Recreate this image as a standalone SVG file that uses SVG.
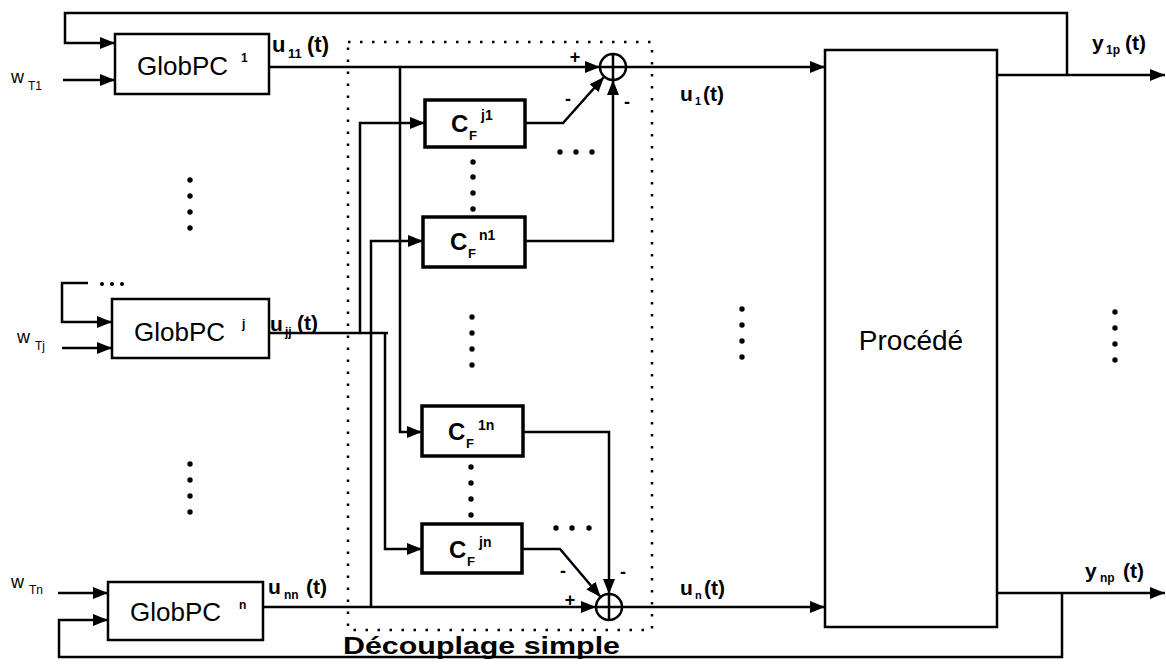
<svg xmlns="http://www.w3.org/2000/svg" width="1166" height="666" viewBox="0 0 1166 666">
<style>
.ln{fill:none;stroke:#000;stroke-width:2.5;stroke-linejoin:miter}
.box{fill:#fff;stroke:#000;stroke-width:2.5}
.cf{fill:#fff;stroke:#000;stroke-width:3.5}
.t{font-family:"Liberation Sans",Arial,sans-serif;fill:#000}
.b{font-weight:bold}
.frame{fill:none;stroke:#000;stroke-width:2.5;stroke-dasharray:2.5 9.5}
</style>
<defs>
<marker id="ar" markerWidth="15" markerHeight="12" refX="15" refY="6" orient="auto" markerUnits="userSpaceOnUse"><path d="M0,0 L15,6 L0,12 z" fill="#000"/></marker>
</defs>
<rect width="1166" height="666" fill="#fff"/>

<g id="decouplage-frame">
<rect class="frame" x="348" y="42" width="304" height="588"/>
<text class="t b" x="343" y="654" font-size="24" textLength="277" lengthAdjust="spacingAndGlyphs">Découplage simple</text>
</g>

<g id="connectors">
<path class="ln" d="M1067,75 V13 H65 V43 H115" marker-end="url(#ar)"/>
<path class="ln" d="M63,80 H115" marker-end="url(#ar)"/>
<path class="ln" d="M269,67 H600" marker-end="url(#ar)"/>
<path class="ln" d="M626,67 H825" marker-end="url(#ar)"/>
<path class="ln" d="M997,75 H1165" marker-end="url(#ar)"/>
<path class="ln" d="M400,67 V432 H422" marker-end="url(#ar)"/>
<path class="ln" d="M269,333 H388"/>
<path class="ln" d="M360,333 V123 H425" marker-end="url(#ar)"/>
<path class="ln" d="M385,333 V549 H422" marker-end="url(#ar)"/>
<path class="ln" d="M263,607 H596" marker-end="url(#ar)"/>
<path class="ln" d="M371,607 V241 H423" marker-end="url(#ar)"/>
<path class="ln" d="M525,123 H563 L604,77" marker-end="url(#ar)"/>
<path class="ln" d="M525,241 H613 V80" marker-end="url(#ar)"/>
<path class="ln" d="M523,432 H609 V594" marker-end="url(#ar)"/>
<path class="ln" d="M522,549 H560 L600.6,597" marker-end="url(#ar)"/>
<path class="ln" d="M622,607 H825" marker-end="url(#ar)"/>
<path class="ln" d="M997,593 H1165" marker-end="url(#ar)"/>
<path class="ln" d="M1062,593 V657 H59 V620 H108" marker-end="url(#ar)"/>
<path class="ln" d="M88,283 H62 V322 H112" marker-end="url(#ar)"/>
<path class="ln" d="M62,348 H112" marker-end="url(#ar)"/>
<path class="ln" d="M58,593 H108" marker-end="url(#ar)"/>
</g>

<g id="globpc1">
<rect class="box" x="115" y="34" width="154" height="60"/>
<text class="t" x="137" y="75" font-size="26">GlobPC</text>
<text class="t b" x="241" y="62" font-size="12">1</text>
</g>
<g id="globpcj">
<rect class="box" x="112" y="299" width="157" height="59"/>
<text class="t" x="134" y="341" font-size="26">GlobPC</text>
<text class="t b" x="242" y="328" font-size="12">j</text>
</g>
<g id="globpcn">
<rect class="box" x="108" y="582" width="155" height="58"/>
<text class="t" x="130" y="621" font-size="26">GlobPC</text>
<text class="t b" x="239" y="609" font-size="12">n</text>
</g>

<g id="procede">
<rect class="box" x="825" y="50" width="172" height="577"/>
<text class="t" x="911" y="350" font-size="28" text-anchor="middle">Procédé</text>
</g>

<g id="cf-j1">
<rect class="cf" x="425" y="100" width="100" height="47"/>
<text class="t b" x="451" y="132" font-size="24">C</text>
<text class="t b" x="469" y="140" font-size="13">F</text>
<text class="t b" x="481" y="120" font-size="14">j1</text>
</g>
<g id="cf-n1">
<rect class="cf" x="423" y="217" width="102" height="50"/>
<text class="t b" x="450" y="250" font-size="24">C</text>
<text class="t b" x="468" y="258" font-size="13">F</text>
<text class="t b" x="479" y="240" font-size="14">n1</text>
</g>
<g id="cf-1n">
<rect class="cf" x="422" y="406" width="101" height="50"/>
<text class="t b" x="448" y="440" font-size="24">C</text>
<text class="t b" x="466" y="448" font-size="13">F</text>
<text class="t b" x="478" y="430" font-size="14">1n</text>
</g>
<g id="cf-jn">
<rect class="cf" x="422" y="524" width="100" height="49"/>
<text class="t b" x="449" y="558" font-size="24">C</text>
<text class="t b" x="467" y="566" font-size="13">F</text>
<text class="t b" x="479" y="547" font-size="14">jn</text>
</g>

<g id="sum1">
<circle cx="613" cy="67" r="13" fill="#fff" stroke="#000" stroke-width="2.5"/>
<path class="ln" d="M600,67 H626 M613,54 V80"/>
</g>
<g id="sumn">
<circle cx="609" cy="607" r="13" fill="#fff" stroke="#000" stroke-width="2.5"/>
<path class="ln" d="M596,607 H622 M609,594 V620"/>
</g>

<g id="labels" class="t b">
<text x="272" y="52" font-size="22">u</text><text x="288" y="58" font-size="13">11</text><text x="307" y="52" font-size="22">(t)</text>
<text x="270" y="331" font-size="21">u</text><text x="285" y="336" font-size="12">jj</text><text x="297" y="330" font-size="21">(t)</text>
<text x="268" y="594" font-size="21">u</text><text x="284" y="599" font-size="12">nn</text><text x="306" y="594" font-size="21">(t)</text>
<text x="680" y="101" font-size="21">u</text><text x="695" y="105" font-size="11">1</text><text x="703" y="101" font-size="21">(t)</text>
<text x="680" y="595" font-size="21">u</text><text x="695" y="599" font-size="11">n</text><text x="704" y="595" font-size="21">(t)</text>
<text x="1092" y="50" font-size="21">y</text><text x="1106" y="54" font-size="12">1p</text><text x="1125" y="50" font-size="21">(t)</text>
<text x="1085" y="578" font-size="21">y</text><text x="1100" y="582" font-size="12">np</text><text x="1123" y="578" font-size="21">(t)</text>
<text x="575" y="63" font-size="18" text-anchor="middle">+</text>
<text x="568" y="105" font-size="18" text-anchor="middle">-</text>
<text x="627" y="108" font-size="18" text-anchor="middle">-</text>
<text x="563" y="577" font-size="18" text-anchor="middle">-</text>
<text x="623" y="578" font-size="18" text-anchor="middle">-</text>
<text x="570" y="606" font-size="18" text-anchor="middle">+</text>
</g>
<g id="inputs" class="t">
<text x="11" y="83" font-size="18">w</text><text x="28" y="90" font-size="12">T1</text>
<text x="17" y="343" font-size="18">w</text><text x="35" y="350" font-size="12">Tj</text>
<text x="11" y="588" font-size="18">w</text><text x="29" y="594" font-size="12">Tn</text>
</g>

<g id="ellipses" fill="#000">
<circle cx="190" cy="180" r="2.7"/><circle cx="190" cy="196" r="2.7"/><circle cx="190" cy="212" r="2.7"/><circle cx="190" cy="228" r="2.7"/>
<circle cx="190" cy="464" r="2.7"/><circle cx="190" cy="480" r="2.7"/><circle cx="190" cy="496" r="2.7"/><circle cx="190" cy="512" r="2.7"/>
<circle cx="102" cy="284" r="2"/><circle cx="112" cy="284" r="2"/><circle cx="122" cy="284" r="2"/>
<circle cx="473" cy="162" r="2.7"/><circle cx="473" cy="177" r="2.7"/><circle cx="473" cy="193" r="2.7"/><circle cx="473" cy="209" r="2.7"/>
<circle cx="472" cy="317" r="2.7"/><circle cx="472" cy="333" r="2.7"/><circle cx="472" cy="349" r="2.7"/><circle cx="472" cy="365" r="2.7"/>
<circle cx="471" cy="467" r="2.7"/><circle cx="471" cy="483" r="2.7"/><circle cx="471" cy="499" r="2.7"/><circle cx="471" cy="515" r="2.7"/>
<circle cx="560" cy="152" r="2.7"/><circle cx="576" cy="152" r="2.7"/><circle cx="592" cy="152" r="2.7"/>
<circle cx="556" cy="528" r="2.7"/><circle cx="572" cy="528" r="2.7"/><circle cx="589" cy="528" r="2.7"/>
<circle cx="742" cy="309" r="2.7"/><circle cx="742" cy="325" r="2.7"/><circle cx="742" cy="341" r="2.7"/><circle cx="742" cy="357" r="2.7"/>
<circle cx="1115" cy="312" r="2.7"/><circle cx="1115" cy="328" r="2.7"/><circle cx="1115" cy="344" r="2.7"/><circle cx="1115" cy="360" r="2.7"/>
</g>
</svg>
